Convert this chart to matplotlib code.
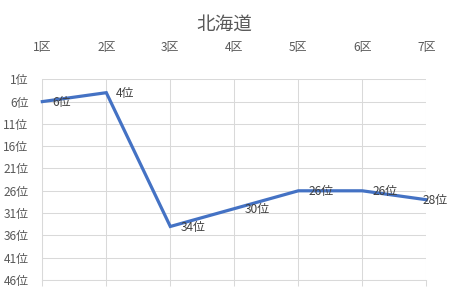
import matplotlib
matplotlib.use("Agg")
import matplotlib.pyplot as plt

plt.rcParams['font.family'] = ['Noto Sans CJK JP', 'DejaVu Sans']

title = "北海道"
districts = ["1区", "2区", "3区", "4区", "5区", "6区", "7区"]
ranks = [6, 4, 34, 30, 26, 26, 28]
rank_ticks = [1, 6, 11, 16, 21, 26, 31, 36, 41, 46]

W, H, DPI = 450, 302, 100
fig = plt.figure(figsize=(W / DPI, H / DPI), dpi=DPI)
fig.patch.set_facecolor("white")

left, right = 42.3 / W, 426.3 / W
top, bottom = 1 - 79.3 / H, 1 - 280.0 / H
ax = fig.add_axes([left, bottom, right - left, top - bottom])

x = list(range(len(districts)))
grid_c = "#D9D9D9"
label_c = "#595959"

ax.plot(x, ranks, color="#4472C4", lw=2.3, solid_joinstyle="miter", zorder=3, clip_on=False)

for xi, r in zip(x, ranks):
    # the last label is pulled back so it stays inside the figure
    dx = 10 if xi < len(districts) - 1 else -4
    ax.annotate(f"{r}位", (xi, r), xytext=(dx, -1), textcoords="offset pixels",
                ha="left", va="center", fontsize=8.6, color="#404040", zorder=4,
                annotation_clip=False)

ax.set_xlim(0, len(districts) - 1)
ax.set_ylim(46, 1)
ax.set_xticks(x)
ax.set_xticklabels(districts)
ax.set_yticks(rank_ticks)
ax.set_yticklabels([f"{t}位" for t in rank_ticks])

ax.grid(True, color=grid_c, lw=0.75)
ax.set_axisbelow(True)
for s in ["top", "right"]:
    ax.spines[s].set_visible(False)
ax.spines["left"].set_color(grid_c)
ax.spines["left"].set_linewidth(0.75)
ax.spines["bottom"].set_color(grid_c)
ax.spines["bottom"].set_linewidth(0.75)

# category labels sit above the plot; tick marks stay at the bottom
ax.tick_params(axis="x", which="both", bottom=True, top=False, labelbottom=False,
               labeltop=True, length=4, width=0.75, color=grid_c,
               labelsize=8.6, labelcolor=label_c, pad=14)
ax.tick_params(axis="y", length=0, labelsize=8.6, labelcolor=label_c, pad=10)

fig.text(224 / W, 1 - 25 / H, title, ha="center", va="center", fontsize=13.4, color="#595959")

fig.savefig("out.png", dpi=DPI)
